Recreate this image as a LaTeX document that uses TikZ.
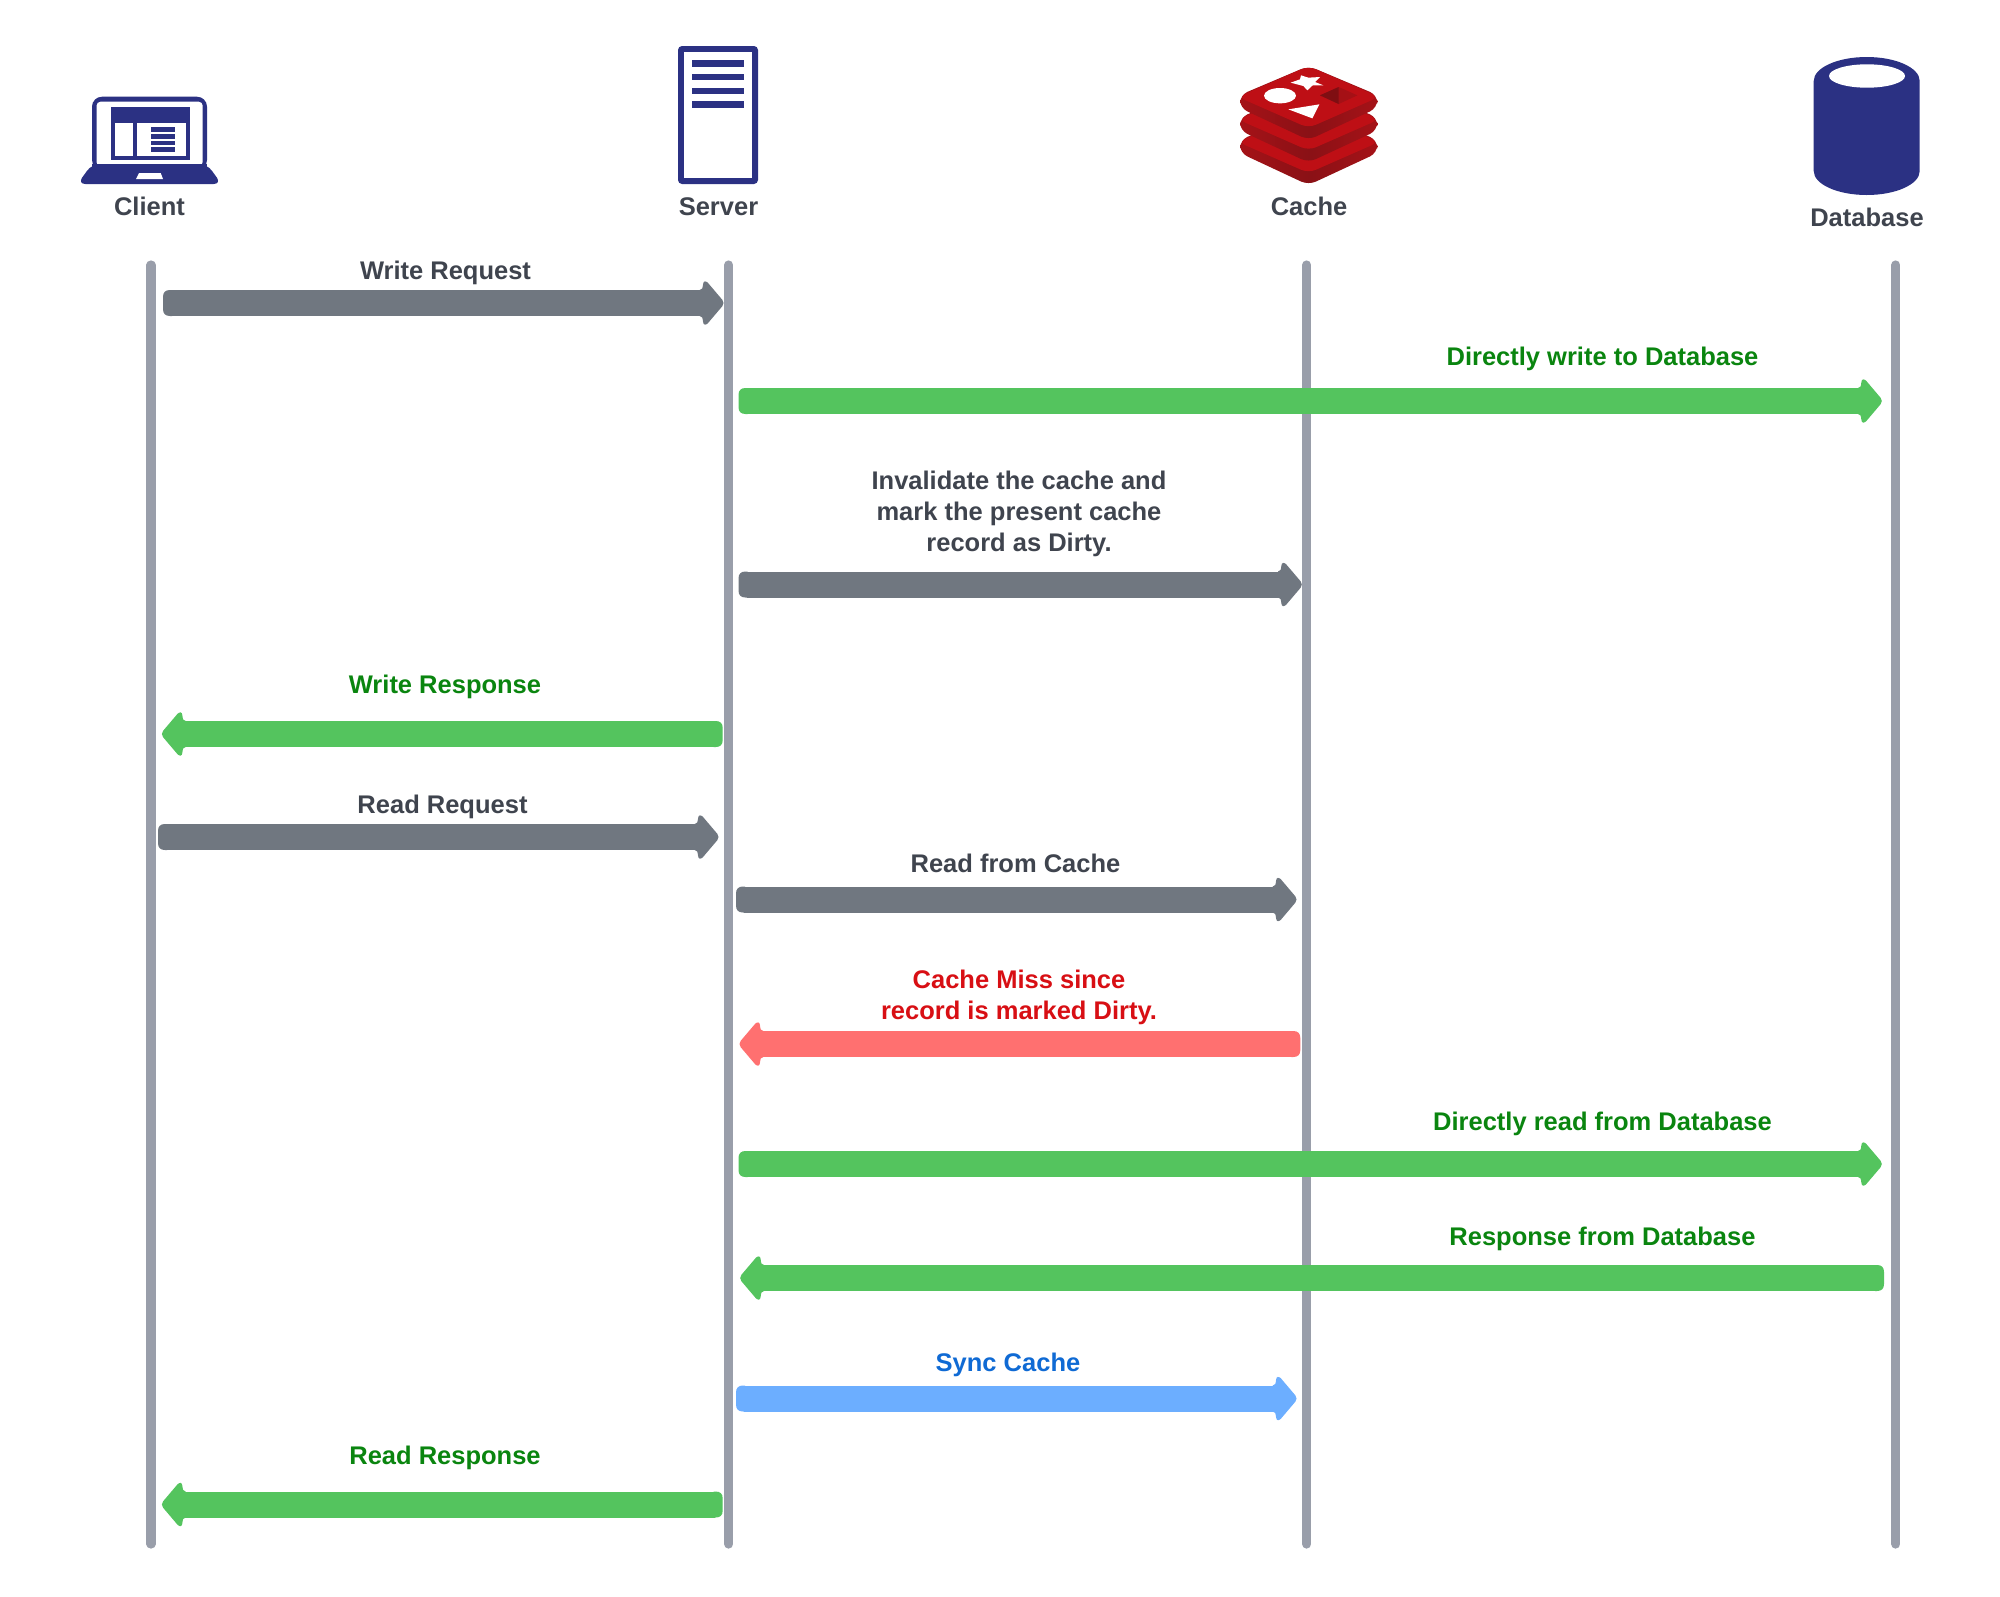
\documentclass[tikz,border=0pt]{standalone}
\usepackage{fontspec}
\setmainfont{Liberation Sans}
\usetikzlibrary{arrows.meta}
\definecolor{navy}{HTML}{2B3183}
\definecolor{lifegrey}{HTML}{999EAA}
\definecolor{arrgrey}{HTML}{707780}
\definecolor{arrgreen}{HTML}{54C45E}
\definecolor{arrred}{HTML}{FF7070}
\definecolor{arrblue}{HTML}{6CAEFF}
\definecolor{txtdark}{HTML}{3F444E}
\definecolor{txtgreen}{HTML}{0A850F}
\definecolor{txtred}{HTML}{D80F14}
\definecolor{txtblue}{HTML}{0F6AD4}
\definecolor{redface}{HTML}{BE0F15}
\definecolor{redsideend}{HTML}{A51217}
\definecolor{redsidemid}{HTML}{8A1116}
\definecolor{redpit}{HTML}{7F0E12}
\definecolor{redpitb}{HTML}{A51015}
\pgfdeclarearrow{
  name=SoftTail,
  setup code={
    \pgfarrowssettipend{0pt}
    \pgfarrowssetbackend{-4.5pt}
    \pgfarrowssetlineend{-4pt}
    \pgfarrowssetvisualbackend{-4.5pt}
    \pgfarrowshullpoint{0pt}{6.5pt}
    \pgfarrowshullpoint{0pt}{-6.5pt}
    \pgfarrowshullpoint{-4.5pt}{6.5pt}
    \pgfarrowshullpoint{-4.5pt}{-6.5pt}
  },
  drawing code={
    \pgfpathmoveto{\pgfqpoint{-4.5pt}{6.5pt}}
    \pgfpathlineto{\pgfqpoint{-3.5pt}{6.5pt}}
    \pgfpathcurveto{\pgfqpoint{-1.2pt}{6.5pt}}{\pgfqpoint{0pt}{5.3pt}}{\pgfqpoint{0pt}{3pt}}
    \pgfpathlineto{\pgfqpoint{0pt}{-3pt}}
    \pgfpathcurveto{\pgfqpoint{0pt}{-5.3pt}}{\pgfqpoint{-1.2pt}{-6.5pt}}{\pgfqpoint{-3.5pt}{-6.5pt}}
    \pgfpathlineto{\pgfqpoint{-4.5pt}{-6.5pt}}
    \pgfpathclose
    \pgfusepathqfill
  }
}
\pgfdeclarearrow{
  name=SoftHead,
  setup code={
    \pgfarrowssettipend{0pt}
    \pgfarrowssetbackend{-12pt}
    \pgfarrowssetlineend{-10pt}
    \pgfarrowssetvisualbackend{-11pt}
    \pgfarrowshullpoint{0pt}{0pt}
    \pgfarrowshullpoint{-9pt}{11pt}
    \pgfarrowshullpoint{-9pt}{-11pt}
  },
  drawing code={
    \pgfpathmoveto{\pgfqpoint{-12pt}{6.5pt}}
    \pgfpathcurveto{\pgfqpoint{-10.6pt}{6.5pt}}{\pgfqpoint{-10.6pt}{7.5pt}}{\pgfqpoint{-10.3pt}{9.5pt}}
    \pgfpathcurveto{\pgfqpoint{-10.1pt}{11pt}}{\pgfqpoint{-9.2pt}{11.2pt}}{\pgfqpoint{-8pt}{10.2pt}}
    \pgfpathlineto{\pgfqpoint{-0.7pt}{1.6pt}}
    \pgfpathcurveto{\pgfqpoint{0.1pt}{0.7pt}}{\pgfqpoint{0.1pt}{-0.7pt}}{\pgfqpoint{-0.7pt}{-1.6pt}}
    \pgfpathlineto{\pgfqpoint{-8pt}{-10.2pt}}
    \pgfpathcurveto{\pgfqpoint{-9.2pt}{-11.2pt}}{\pgfqpoint{-10.1pt}{-11pt}}{\pgfqpoint{-10.3pt}{-9.5pt}}
    \pgfpathcurveto{\pgfqpoint{-10.6pt}{-7.5pt}}{\pgfqpoint{-10.6pt}{-6.5pt}}{\pgfqpoint{-12pt}{-6.5pt}}
    \pgfpathclose
    \pgfusepathqfill
  }
}
\tikzset{
  lbl/.style={font=\fontsize{12.75}{15.5}\selectfont\bfseries, text=txtdark, inner sep=0pt, align=center},
  lblgreen/.style={lbl, text=txtgreen},
  lblred/.style={lbl, text=txtred},
  lblblue/.style={lbl, text=txtblue},
  lifeline/.style={draw=lifegrey, line width=4.6pt, line cap=round},
  msg/.style={line width=13pt, {SoftTail[]}-{SoftHead[]}},
  msggrey/.style={msg, draw=arrgrey},
  msggreen/.style={msg, draw=arrgreen},
  msgred/.style={msg, draw=arrred},
  msgblue/.style={msg, draw=arrblue},
}
\begin{document}
\begin{tikzpicture}[x=0.5pt,y=-0.5pt]
\useasboundingbox (0,0) rectangle (2000,1596);
\fill[white] (0,0) rectangle (2000,1596);

% --- Client laptop
\fill[navy, rounded corners=5pt] (92,170) -- (92,96.7) -- (207,96.7) -- (207,170) -- cycle;
\fill[white, rounded corners=2pt] (96.5,166) -- (96.5,101.7) -- (202.7,101.7) -- (202.7,166) -- cycle;
\fill[navy, rounded corners=4pt] (92,164) -- (207,164) -- (221.5,184) -- (77.5,184) -- cycle;
\fill[navy] (92,164) rectangle (207,175);
\fill[navy] (111.3,107.3) rectangle (190,160);
\fill[white] (115.3,122.7) rectangle (133,156);
\fill[white] (137.3,122.7) rectangle (185.7,156);
\foreach \ya/\yb in {127/131.7,134/138.7,140.7/145,147.3/151.7}
  \fill[navy] (151,\ya) rectangle (174.7,\yb);
\fill[white] (139,173) -- (160.7,173) -- (163,179) -- (136,179) -- cycle;
\node[lbl] (client) at (149.5,206) {Client};

% --- Server
\fill[navy, rounded corners=2pt] (678,46) rectangle (758,184);
\fill[white] (684.2,52) rectangle (752.2,178);
\foreach \ya/\yb in {60/66.7,73.7/80,87.7/94,101.3/107.7}
  \fill[navy] (692,\ya) rectangle (744,\yb);
\node[lbl] (server) at (718.5,207) {Server};

% --- Cache (stacked layers)
\foreach \dy in {45,22.5,0}{
  \begin{scope}[yshift=-\dy*0.5pt]
    \shade[left color=redsideend, right color=redsideend, middle color=redsidemid, rounded corners=4pt] (1240,95) -- (1308.5,66) -- (1377.3,95) -- (1377.3,108) -- (1308.5,140) -- (1240,108) -- cycle;
    \fill[redface, rounded corners=4pt] (1238,97) -- (1308.5,66) -- (1379,97) -- (1308.5,128) -- cycle;
  \end{scope}
}
\begin{scope}[shift={(1270,62)},x=0.1667pt,y=-0.1667pt]
  \fill[white] (62,62) -- (90,52) -- (93,40) -- (115,47) -- (150,45) -- (135,60) -- (160,70) -- (128,70) -- (112,85) -- (100,72) -- cycle;
  \fill[white] (30,101) ellipse (48 and 23);
  \fill[white] (55,142) -- (148,127) -- (127,169) -- cycle;
  \fill[redpitb] (150,100) -- (206,75) -- (262,100) -- (206,126) -- cycle;
  \fill[redpit] (150,100) -- (206,75) -- (206,126) -- cycle;
\end{scope}
\node[lbl] (cache) at (1309,206) {Cache};

% --- Database
\fill[navy] (1813.7,81) arc[start angle=180, end angle=360, x radius=53, y radius=24]
  -- (1919.7,171) arc[start angle=0, end angle=180, x radius=53, y radius=24] -- cycle;
\fill[white] (1867,76) ellipse (38 and 11.7);
\node[lbl] (database) at (1867,217) {Database};

% --- Lifelines
\coordinate (lca) at (151,265); \coordinate (lcb) at (151,1544);
\coordinate (lsa) at (728.7,265); \coordinate (lsb) at (728.7,1544);
\coordinate (lka) at (1306.7,265); \coordinate (lkb) at (1306.7,1544);
\coordinate (lda) at (1895.8,265); \coordinate (ldb) at (1895.8,1544);
\draw[lifeline] (lca) -- (lcb);
\draw[lifeline] (lsa) -- (lsb);
\draw[lifeline] (lka) -- (lkb);
\draw[lifeline] (lda) -- (ldb);

% --- Messages
\coordinate (m1a) at (163,303);  \coordinate (m1b) at (723.7,303);
\coordinate (m2a) at (738.5,401);      \coordinate (m2b) at (1882,401);
\coordinate (m3a) at (738.5,584.5);      \coordinate (m3b) at (1302,584.5);
\coordinate (m4a) at (722.7,734);  \coordinate (m4b) at (161.7,734);
\coordinate (m5a) at (158,837);      \coordinate (m5b) at (718.7,837);
\coordinate (m6a) at (736,899.5);      \coordinate (m6b) at (1296.7,899.5);
\coordinate (m7a) at (1300.3,1044);\coordinate (m7b) at (739.3,1044);
\coordinate (m8a) at (738.5,1164);   \coordinate (m8b) at (1882,1164);
\coordinate (m9a) at (1884,1278);  \coordinate (m9b) at (740,1278);
\coordinate (m10a) at (736,1398.5);    \coordinate (m10b) at (1296.7,1398.5);
\coordinate (m11a) at (722.7,1504.5);\coordinate (m11b) at (161.7,1504.5);

\draw[msggrey]  (m1a) -- (m1b);
\draw[msggreen] (m2a) -- (m2b);
\draw[msggrey]  (m3a) -- (m3b);
\draw[msggreen] (m4a) -- (m4b);
\draw[msggrey]  (m5a) -- (m5b);
\draw[msggrey]  (m6a) -- (m6b);
\draw[msgred]   (m7a) -- (m7b);
\draw[msggreen] (m8a) -- (m8b);
\draw[msggreen] (m9a) -- (m9b);
\draw[msgblue]  (m10a) -- (m10b);
\draw[msggreen] (m11a) -- (m11b);

% --- Labels
\node[lbl] (t1) at (445.5,273) {Write Request};
\node[lblgreen] (t2) at (1602.5,358.5) {Directly write to Database};
\node[lbl] (t3) at (1019,514) {Invalidate the cache and\\mark the present cache\\record as Dirty.};
\node[lblgreen] (t4) at (445,687) {Write Response};
\node[lbl] (t5) at (442.5,807) {Read Request};
\node[lbl] (t6) at (1015.5,863.5) {Read from Cache};
\node[lblred] (t7) at (1019,997) {Cache Miss since\\record is marked Dirty.};
\node[lblgreen] (t8) at (1602.5,1124) {Directly read from Database};
\node[lblgreen] (t9) at (1602.5,1239) {Response from Database};
\node[lblblue] (t10) at (1008,1365) {Sync Cache};
\node[lblgreen] (t11) at (445,1458) {Read Response};
\end{tikzpicture}
\end{document}
